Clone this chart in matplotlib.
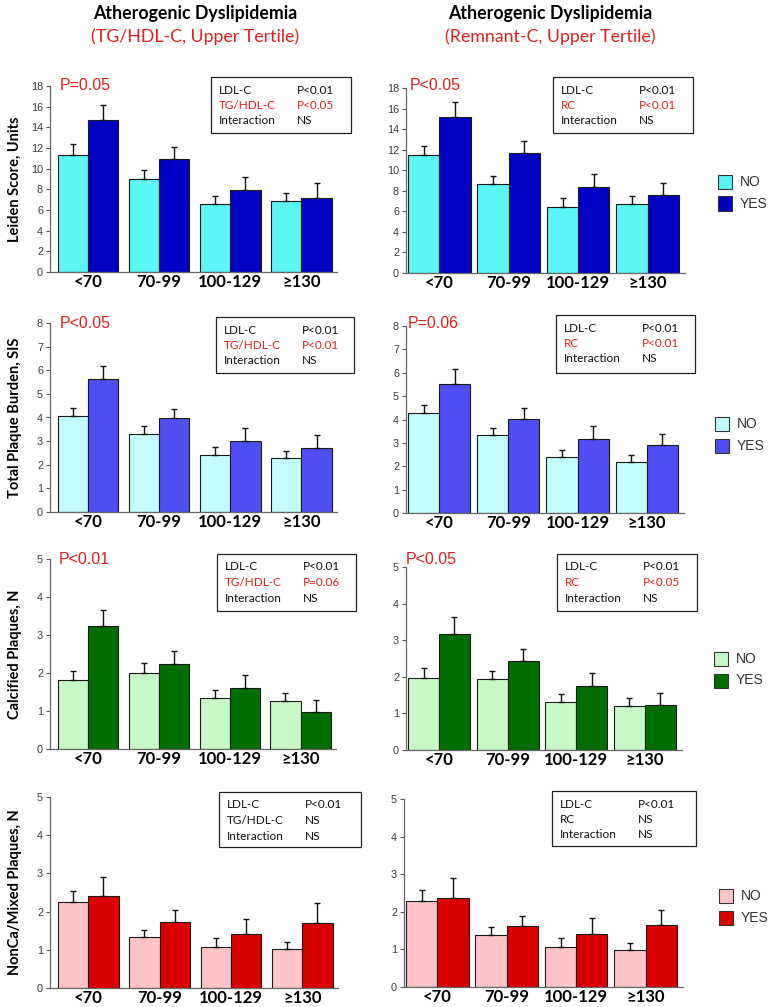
import matplotlib
matplotlib.use("Agg")
import matplotlib.pyplot as plt
from matplotlib.patches import Rectangle

W, H = 777, 1007

groups = ["<70", "70-99", "100-129", "≥130"]

# Leiden score (units)
leiden_tg_no = [11.3, 9.0, 6.6, 6.9]
leiden_tg_no_se = [1.1, 0.85, 0.8, 0.75]
leiden_tg_yes = [14.7, 10.95, 7.95, 7.2]
leiden_tg_yes_se = [1.45, 1.1, 1.25, 1.4]
leiden_rc_no = [11.45, 8.7, 6.45, 6.75]
leiden_rc_no_se = [0.9, 0.75, 0.85, 0.75]
leiden_rc_yes = [15.15, 11.7, 8.4, 7.55]
leiden_rc_yes_se = [1.45, 1.15, 1.25, 1.25]

# Total plaque burden (SIS)
sis_tg_no = [4.06, 3.32, 2.42, 2.30]
sis_tg_no_se = [0.36, 0.34, 0.34, 0.29]
sis_tg_yes = [5.62, 3.96, 3.0, 2.70]
sis_tg_yes_se = [0.56, 0.42, 0.56, 0.55]
sis_rc_no = [4.27, 3.35, 2.39, 2.18]
sis_rc_no_se = [0.34, 0.29, 0.29, 0.30]
sis_rc_yes = [5.51, 4.01, 3.17, 2.89]
sis_rc_yes_se = [0.64, 0.47, 0.56, 0.47]

# Calcified plaques (N)
calc_tg_no = [1.82, 2.01, 1.35, 1.27]
calc_tg_no_se = [0.24, 0.26, 0.21, 0.21]
calc_tg_yes = [3.24, 2.24, 1.61, 0.98]
calc_tg_yes_se = [0.42, 0.35, 0.35, 0.32]
calc_rc_no = [1.96, 1.93, 1.30, 1.20]
calc_rc_no_se = [0.27, 0.24, 0.22, 0.21]
calc_rc_yes = [3.16, 2.43, 1.75, 1.23]
calc_rc_yes_se = [0.48, 0.34, 0.36, 0.32]

# NonCa/mixed plaques (N)
mixed_tg_no = [2.24, 1.34, 1.07, 1.02]
mixed_tg_no_se = [0.31, 0.17, 0.24, 0.18]
mixed_tg_yes = [2.42, 1.73, 1.41, 1.69]
mixed_tg_yes_se = [0.49, 0.31, 0.40, 0.54]
mixed_rc_no = [2.28, 1.39, 1.07, 0.99]
mixed_rc_no_se = [0.30, 0.21, 0.24, 0.18]
mixed_rc_yes = [2.37, 1.62, 1.40, 1.64]
mixed_rc_yes_se = [0.54, 0.28, 0.43, 0.42]

ylabels = ["Leiden Score, Units", "Total Plaque Burden, SIS",
           "Calcified Plaques, N", "NonCa/Mixed Plaques, N"]
ymax = [18, 8, 5, 5]
ystep = [2, 1, 1, 1]
colors = [("#5CF6F6", "#0000C4"), ("#C2FCFC", "#4E4EF2"),
          ("#C6F9C6", "#006E00"), ("#FFC4C8", "#DA0000")]

# second row of each stats box: (label, value, red?)
stats_tg = [("TG/HDL-C", "P<0.05", True), ("TG/HDL-C", "P<0.01", True),
            ("TG/HDL-C", "P=0.06", True), ("TG/HDL-C", "NS", False)]
stats_rc = [("RC", "P<0.01", True), ("RC", "P<0.01", True),
            ("RC", "P<0.05", True), ("RC", "NS", False)]
pvals_tg = ["P=0.05", "P<0.05", "P<0.01", None]
pvals_rc = ["P<0.05", "P=0.06", "P<0.05", None]

RED = "#E0201E"
SANS = ["Liberation Sans", "DejaVu Sans"]
CAL = ["Lato", "DejaVu Sans"]

fig = plt.figure(figsize=(W / 100, H / 100), dpi=100)


def fx(px):
    return px / W


def fy(py):
    return 1 - py / H


# pixel boxes: (x0, x1, ytop, ybot)
ax_boxes = [
    [(50, 337, 86, 272), (406, 685, 88, 273)],
    [(50, 337, 323, 512), (406, 684, 326, 513)],
    [(50, 336, 559, 749), (406, 682, 567, 750)],
    [(50, 338, 797, 988), (404, 683, 799, 987)],
]
stat_boxes = [
    [(211, 351, 77, 133), (553, 693, 77, 133)],
    [(216, 354, 317, 373), (556, 695, 315, 373)],
    [(217, 356, 554, 611), (557, 697, 554, 611)],
    [(219, 361, 792, 847), (552, 696, 791, 846)],
]
pval_pos = [
    [(60, 85), (410, 85)],
    [(60, 324), (408, 324)],
    [(59, 560), (406, 560)],
    [None, None],
]
legend_pos = [(718, 182), (715, 424), (714, 659), (719, 896)]

data = [
    [(leiden_tg_no, leiden_tg_no_se, leiden_tg_yes, leiden_tg_yes_se),
     (leiden_rc_no, leiden_rc_no_se, leiden_rc_yes, leiden_rc_yes_se)],
    [(sis_tg_no, sis_tg_no_se, sis_tg_yes, sis_tg_yes_se),
     (sis_rc_no, sis_rc_no_se, sis_rc_yes, sis_rc_yes_se)],
    [(calc_tg_no, calc_tg_no_se, calc_tg_yes, calc_tg_yes_se),
     (calc_rc_no, calc_rc_no_se, calc_rc_yes, calc_rc_yes_se)],
    [(mixed_tg_no, mixed_tg_no_se, mixed_tg_yes, mixed_tg_yes_se),
     (mixed_rc_no, mixed_rc_no_se, mixed_rc_yes, mixed_rc_yes_se)],
]

x = list(range(len(groups)))
for r in range(4):
    c_no, c_yes = colors[r]
    for c in range(2):
        x0, x1, yt, yb = ax_boxes[r][c]
        ax = fig.add_axes([fx(x0), fy(yb), fx(x1 - x0), (yb - yt) / H])
        no, no_se, yes, yes_se = data[r][c]
        w = 0.425 if c == 0 else 0.45
        xs_no = [i - w / 2 for i in x]
        xs_yes = [i + w / 2 for i in x]
        ax.bar(xs_no, no, w, color=c_no, edgecolor="#1a1a1a", linewidth=0.8, zorder=2)
        ax.bar(xs_yes, yes, w, color=c_yes, edgecolor="#1a1a1a", linewidth=0.8, zorder=2)
        for xs, vals, se in ((xs_no, no, no_se), (xs_yes, yes, yes_se)):
            ax.errorbar(xs, vals, yerr=[[0] * len(se), se], fmt="none",
                        ecolor="#111111", elinewidth=1.0, capsize=2.5,
                        capthick=1.0, zorder=3)
        if c == 0:
            ax.set_xlim(-0.535, 3.50)
        else:
            ax.set_xlim(-0.48, 3.54)
        ax.set_ylim(0, ymax[r])
        ax.set_yticks(range(0, ymax[r] + 1, ystep[r]))
        ax.set_xticks(x)
        ax.set_xticklabels(groups, fontsize=12, fontweight="bold", family=CAL)
        ax.tick_params(axis="x", length=0, pad=1.5)
        ax.tick_params(axis="y", length=3, width=0.8, color="#555555",
                       labelsize=7.8, labelcolor="#3a3a3a", pad=2)
        for t in ax.get_yticklabels():
            t.set_family(SANS)
        ax.spines[["top", "right"]].set_visible(False)
        for s in ("left", "bottom"):
            ax.spines[s].set_color("#666666")
            ax.spines[s].set_linewidth(0.9)

        # p-value above first group
        pv = (pvals_tg if c == 0 else pvals_rc)[r]
        if pv:
            px, py = pval_pos[r][c]
            fig.text(fx(px), fy(py), pv, color=RED, fontsize=11.5,
                     family=SANS, ha="left", va="center")

        # stats box
        bx0, bx1, by0, by1 = stat_boxes[r][c]
        fig.patches.append(Rectangle((fx(bx0), fy(by1)), fx(bx1 - bx0),
                                     (by1 - by0) / H, transform=fig.transFigure,
                                     fill=False, edgecolor="#222222", linewidth=0.9))
        lab, val, red = (stats_tg if c == 0 else stats_rc)[r]
        rows = [("LDL-C", "P<0.01", False), (lab, val, red), ("Interaction", "NS", False)]
        col1 = bx0 + 8
        col2 = bx0 + 86
        for k, (a, b, is_red) in enumerate(rows):
            yy = by0 + 13 + k * 15.5
            col = RED if is_red else "#111111"
            fig.text(fx(col1), fy(yy), a, color=col, fontsize=8.5, family=CAL,
                     ha="left", va="center")
            fig.text(fx(col2), fy(yy), b, color=col, fontsize=8.5, family=CAL,
                     ha="left", va="center")

    # row y-label
    yt = ax_boxes[r][0][2]
    yb = ax_boxes[r][0][3]
    fig.text(fx(15), fy((yt + yb) / 2), ylabels[r], rotation=90, fontsize=10.5,
             fontweight="bold", family=CAL, ha="center", va="center")

    # legend squares
    lx, ly = legend_pos[r]
    for k, (name, col) in enumerate((("NO", c_no), ("YES", c_yes))):
        cy = ly + k * 21.5
        fig.patches.append(Rectangle((fx(lx), fy(cy + 7)), fx(14), 14 / H,
                                     transform=fig.transFigure, facecolor=col,
                                     edgecolor="#333333", linewidth=0.8))
        fig.text(fx(lx + 22), fy(cy), name, fontsize=10, color="#333333",
                 family=SANS, ha="left", va="center")

# column headers
for cx, sub in ((195, "(TG/HDL-C, Upper Tertile)"), (550, "(Remnant-C, Upper Tertile)")):
    fig.text(fx(cx), fy(13), "Atherogenic Dyslipidemia", fontsize=12.8,
             fontweight="bold", family=CAL, ha="center", va="center")
    fig.text(fx(cx), fy(37), sub, fontsize=12.8, color=RED, family=CAL,
             ha="center", va="center")

fig.savefig("out.png", dpi=100)
